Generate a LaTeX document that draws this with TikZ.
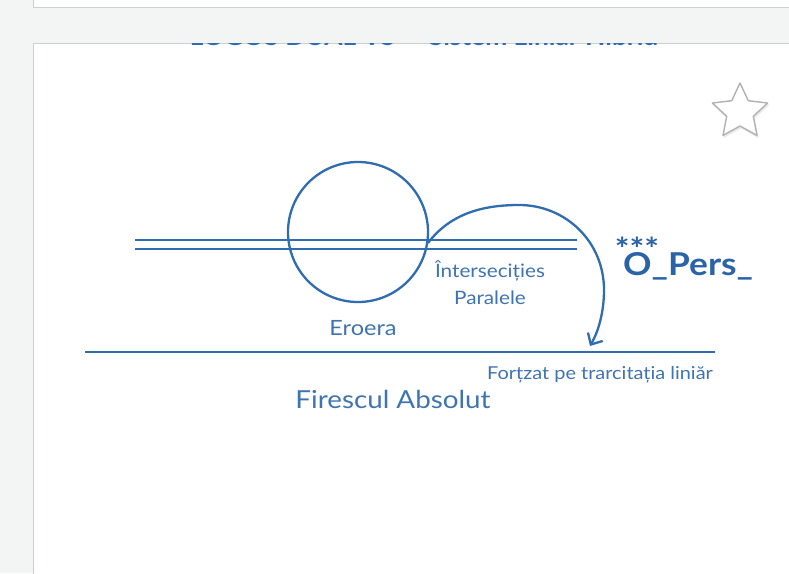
\documentclass[tikz,border=0pt]{standalone}
\usepackage{fontspec}
\setmainfont{Lato}[FakeStretch=1.12]
\usetikzlibrary{arrows.meta}
\definecolor{pagebg}{HTML}{F3F5F5}
\definecolor{cardline}{HTML}{CDD0D2}
\definecolor{lineblue}{HTML}{2F6CB0}
\definecolor{textblue}{HTML}{3F74B2}
\definecolor{darkblue}{HTML}{2A63A8}
\tikzset{
  card/.style={fill=white, draw=cardline, line width=1pt},
  blueline/.style={draw=lineblue, line width=2.3pt},
  thickline/.style={draw=lineblue, line width=2.8pt},
  lbl/.style={text=textblue, inner sep=0pt},
  starline/.style={draw=black!30, fill=white, line width=1.4pt, line join=round}
}
\begin{document}
\begin{tikzpicture}[x=1pt,y=-1pt]
\useasboundingbox (0,0) rectangle (789,573);
\fill[pagebg] (0,0) rectangle (789,573);
% cards
\draw[card] (33,-10) rectangle (800,7);
\draw[card] (33,43) rectangle (800,590);
% cut-off heading
\begin{scope}
\clip (33,43.5) rectangle (789,60);
\node[lbl, text=lineblue, anchor=base, font=\bfseries\fontsize{23.5}{23.5}\selectfont] (head) at (424,45) {LOGOS DUAL VS — Sistem Liniar Hibrid};
\end{scope}
% star with soft shadow
\fill[black!8, shift={(741,114)}]
  (-90:30) -- (-54:14.5) -- (-18:30) -- (18:14.5) -- (54:30) -- (90:14.5)
  -- (126:30) -- (162:14.5) -- (198:30) -- (234:14.5) -- cycle;
\draw[starline, shift={(740,112)}]
  (-90:29) -- (-54:14) -- (-18:29) -- (18:14) -- (54:29) -- (90:14)
  -- (126:29) -- (162:14) -- (198:29) -- (234:14) -- cycle;
% parallel lines
\coordinate (p1a) at (135,240); \coordinate (p1b) at (577,240);
\coordinate (p2a) at (135,249); \coordinate (p2b) at (577,249);
\draw[blueline] (p1a) -- (p1b);
\draw[blueline] (p2a) -- (p2b);
% circle
\node[draw=lineblue, line width=2.3pt, circle, minimum size=140pt, inner sep=0pt] (circ) at (358,232) {};
% arc arrow
\coordinate (arcS) at (428,243);
\coordinate (arcT) at (519,205);
\coordinate (arcR) at (604,290);
\coordinate (arcE) at (590,346);
\draw[blueline, -{Straight Barb[length=9pt,width=17pt,line width=2.3pt]}]
  (arcS) .. controls (450,214) and (482,205) .. (arcT)
  .. controls (566,205) and (604,242) .. (arcR)
  .. controls (604,313) and (598,332) .. (arcE);
% bottom line
\coordinate (bla) at (85,352); \coordinate (blb) at (715,352);
\draw[thickline] (bla) -- (blb);
% labels
\node[lbl, font=\fontsize{21}{21}\selectfont] (eroera) at (363,328) {Eroera};
\node[lbl, font=\fontsize{18.5}{27}\selectfont, align=center] (inter) at (490,283) {Întersecițies\\Paralele};
\node[lbl, text=darkblue, anchor=south, text height=8pt, text depth=0pt, font=\bfseries\fontsize{31}{31}\selectfont] (stars) at (637,247) {\raisebox{-14pt}{***}};
\node[lbl, text=darkblue, anchor=base west, font=\bfseries\fontsize{31.5}{31.5}\selectfont] (opers) at (623,275) {O\_Pers\_};
\node[lbl, anchor=west, font=\fontsize{17.8}{17.8}\selectfont] (fortzat) at (487,375) {Forțzat pe trarcitația liniăr};
\node[lbl, font=\fontsize{24.8}{24.8}\selectfont] (firescul) at (393,399) {Firescul Absolut};
\end{tikzpicture}
\end{document}
